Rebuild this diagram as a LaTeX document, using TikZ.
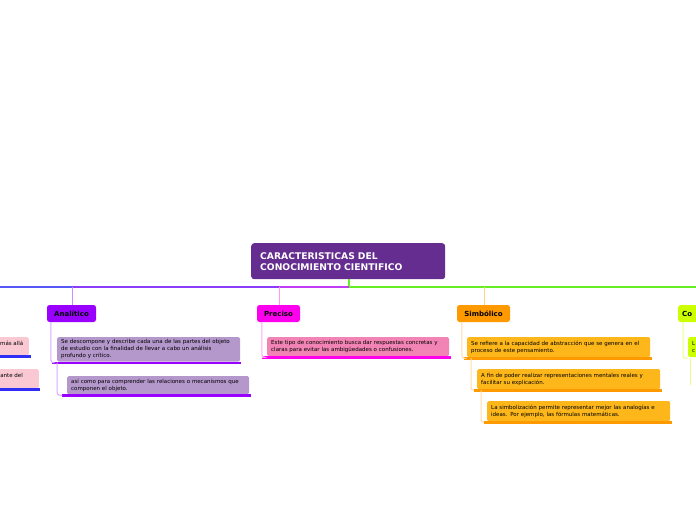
\documentclass[tikz,border=0pt]{standalone}
\usepackage{fontspec}
\setmainfont{DejaVu Sans}
\usetikzlibrary{positioning}

\definecolor{rootc}{HTML}{662D91}
\definecolor{anac}{HTML}{9900FF}
\definecolor{anal}{HTML}{B497CB}
\definecolor{prec}{HTML}{FF00EE}
\definecolor{prel}{HTML}{F283B5}
\definecolor{simc}{HTML}{FF9900}
\definecolor{siml}{HTML}{FDB71A}
\definecolor{conc}{HTML}{CCFF00}
\definecolor{leftl}{HTML}{F9C8D3}
\definecolor{leftu}{HTML}{2E2EF5}
\definecolor{lineA}{HTML}{5757F8}
\definecolor{lineB}{HTML}{8A3CFA}
\definecolor{lineC}{HTML}{C03CF5}
\definecolor{lineD}{HTML}{66EE22}

\tikzset{
  root/.style={fill=rootc, text=white, rounded corners=3pt, minimum width=194pt,
    minimum height=36pt, text width=176pt, align=left, inner xsep=9pt,
    font=\fontsize{9.2}{11}\selectfont\bfseries, anchor=north west},
  branch/.style={fill=#1, rounded corners=2.5pt, minimum height=17pt, inner sep=0pt,
    font=\fontsize{7}{8}\selectfont\bfseries},
  leaf/.style={fill=#1, rounded corners=1.5pt, anchor=north west, align=left,
    inner xsep=4pt, inner ysep=2.5pt, font=\fontsize{5.5}{7}\selectfont},
  uline/.style={line width=2.2pt, #1},
  conn/.style={line width=1pt, #1, rounded corners=3pt},
}

\begin{document}
\begin{tikzpicture}[x=1pt, y=-1pt]
  \useasboundingbox (0,0) rectangle (696,520);

  % main line
  \node [root] (raiz) at (251,243) {CARACTERISTICAS DEL\\CONOCIMIENTO CIENTIFICO};
  \coordinate (r0) at (349,287);
  \coordinate (rl) at (0,287);
  \coordinate (rr) at (696,287);
  \coordinate (ja) at (72,287);
  \coordinate (jp) at (279,287);
  \coordinate (js) at (484,287);
  \draw [line width=1.6pt, lineD] (raiz.south -| r0) -- (r0);
  \draw [line width=1.6pt, lineA] (rl) -- (ja);
  \draw [line width=1.6pt, lineB] (ja) -- (jp);
  \draw [line width=1.6pt, lineC] (jp) -- (r0);
  \draw [line width=1.6pt, lineD] (r0) -- (rr);

  % ramas
  \node [branch=anac, minimum width=49pt] (ana) at (71.5,313.5) {Analítico};
  \node [branch=prec, minimum width=43pt] (pre) at (278.5,313.5) {Preciso};
  \node [branch=simc, minimum width=53pt] (sim) at (483.5,313.5) {Simbólico};
  \node [branch=conc, minimum width=40pt, anchor=west, text width=32pt, align=left] (con) at (678,313.5) {Co};
  \draw [line width=1pt, anac!45] (ja) -- (ana.north -| ja);
  \draw [line width=1pt, prec!40] (jp) -- (pre.north -| jp);
  \draw [line width=1pt, simc!45] (js) -- (sim.north -| js);

  % Analitico
  \node [leaf=anal, text width=175pt, minimum height=24pt] (a1) at (57,337)
    {Se descompone y describe cada una de las partes del objeto\\de estudio con la finalidad de llevar a cabo un análisis\\profundo y crítico.};
  \node [leaf=anal, text width=174pt, minimum height=18pt] (a2) at (67,376)
    {así como para comprender las relaciones o mecanismos que\\componen el objeto.};
  \coordinate (a1u) at ([xshift=-5pt,yshift=-1pt]a1.south west);
  \coordinate (a2u) at ([xshift=-5pt,yshift=-1pt]a2.south west);
  \draw [uline=anac] (a1u) -- ([xshift=1pt,yshift=-1pt]a1.south east);
  \draw [uline=anac] (a2u) -- ([xshift=2pt,yshift=-1pt]a2.south east);
  \draw [conn=anac!35] ([xshift=4pt]ana.south west) |- (a1u);
  \draw [conn=anac!35] ([xshift=5pt]a1u) |- (a2u);

  % Preciso
  \node [leaf=prel, text width=174pt, minimum height=19pt] (p1) at (267,337)
    {Este tipo de conocimiento busca dar respuestas concretas y\\claras para evitar las ambigüedades o confusiones.};
  \coordinate (p1u) at ([xshift=-5pt,yshift=-1pt]p1.south west);
  \draw [uline=prec] (p1u) -- ([xshift=2pt,yshift=-1pt]p1.south east);
  \draw [conn=prec!35] ([xshift=5pt]pre.south west) |- (p1u);

  % Simbolico
  \node [leaf=siml, text width=175pt, minimum height=20pt] (s1) at (467,337)
    {Se refiere a la capacidad de abstracción que se genera en el\\proceso de este pensamiento.};
  \node [leaf=siml, text width=175pt, minimum height=20pt] (s2) at (477,369)
    {A fin de poder realizar representaciones mentales reales y\\facilitar su explicación.};
  \node [leaf=siml, text width=175pt, minimum height=20pt] (s3) at (487,401)
    {La simbolización permite representar mejor las analogías e\\ideas. Por ejemplo, las fórmulas matemáticas.};
  \coordinate (s1u) at ([xshift=-3pt,yshift=-1pt]s1.south west);
  \coordinate (s2u) at ([xshift=-3pt,yshift=-1pt]s2.south west);
  \coordinate (s3u) at ([xshift=-3pt,yshift=-1pt]s3.south west);
  \draw [uline=simc] (s1u) -- ([xshift=2pt,yshift=-1pt]s1.south east);
  \draw [uline=simc] (s2u) -- ([xshift=2pt,yshift=-1pt]s2.south east);
  \draw [uline=simc] (s3u) -- ([xshift=2pt,yshift=-1pt]s3.south east);
  \draw [conn=simc!35] ([xshift=5pt]sim.south west) |- (s1u);
  \draw [conn=simc!35] ([xshift=7pt]s1u) |- (s2u);
  \draw [conn=simc!35] ([xshift=7pt]s2u) |- (s3u);

  % Co...
  \node [leaf=conc, text width=20pt, minimum height=20pt] (c1) at (688,337) {L\\c};
  \coordinate (c1u) at ([xshift=-3pt,yshift=-1pt]c1.south west);
  \draw [conn=conc!45] ([xshift=5pt]con.south west) |- (c1u);
  \draw [conn=conc!45] ([xshift=5pt]c1u) -- ++(0,27);

  % ramas de la izquierda
  \node [leaf=leftl, anchor=north east, minimum width=60pt, minimum height=18pt] (l1) at (29,337) {};
  \node [leaf=leftl, anchor=north east, minimum width=70pt, minimum height=19pt] (l2) at (39,369) {};
  \node [anchor=east, inner sep=0pt, font=\fontsize{5.5}{7}\selectfont] (t1) at (23.5,343.5) {más allá};
  \node [anchor=east, inner sep=0pt, font=\fontsize{5.5}{7}\selectfont] (t2) at (23,375) {ante del};
  \draw [uline=leftu] ([yshift=-1pt]l1.south west) -- ([xshift=2pt,yshift=-1pt]l1.south east);
  \draw [uline=leftu] ([yshift=-1pt]l2.south west) -- ([xshift=1pt,yshift=-1pt]l2.south east);
\end{tikzpicture}
\end{document}
